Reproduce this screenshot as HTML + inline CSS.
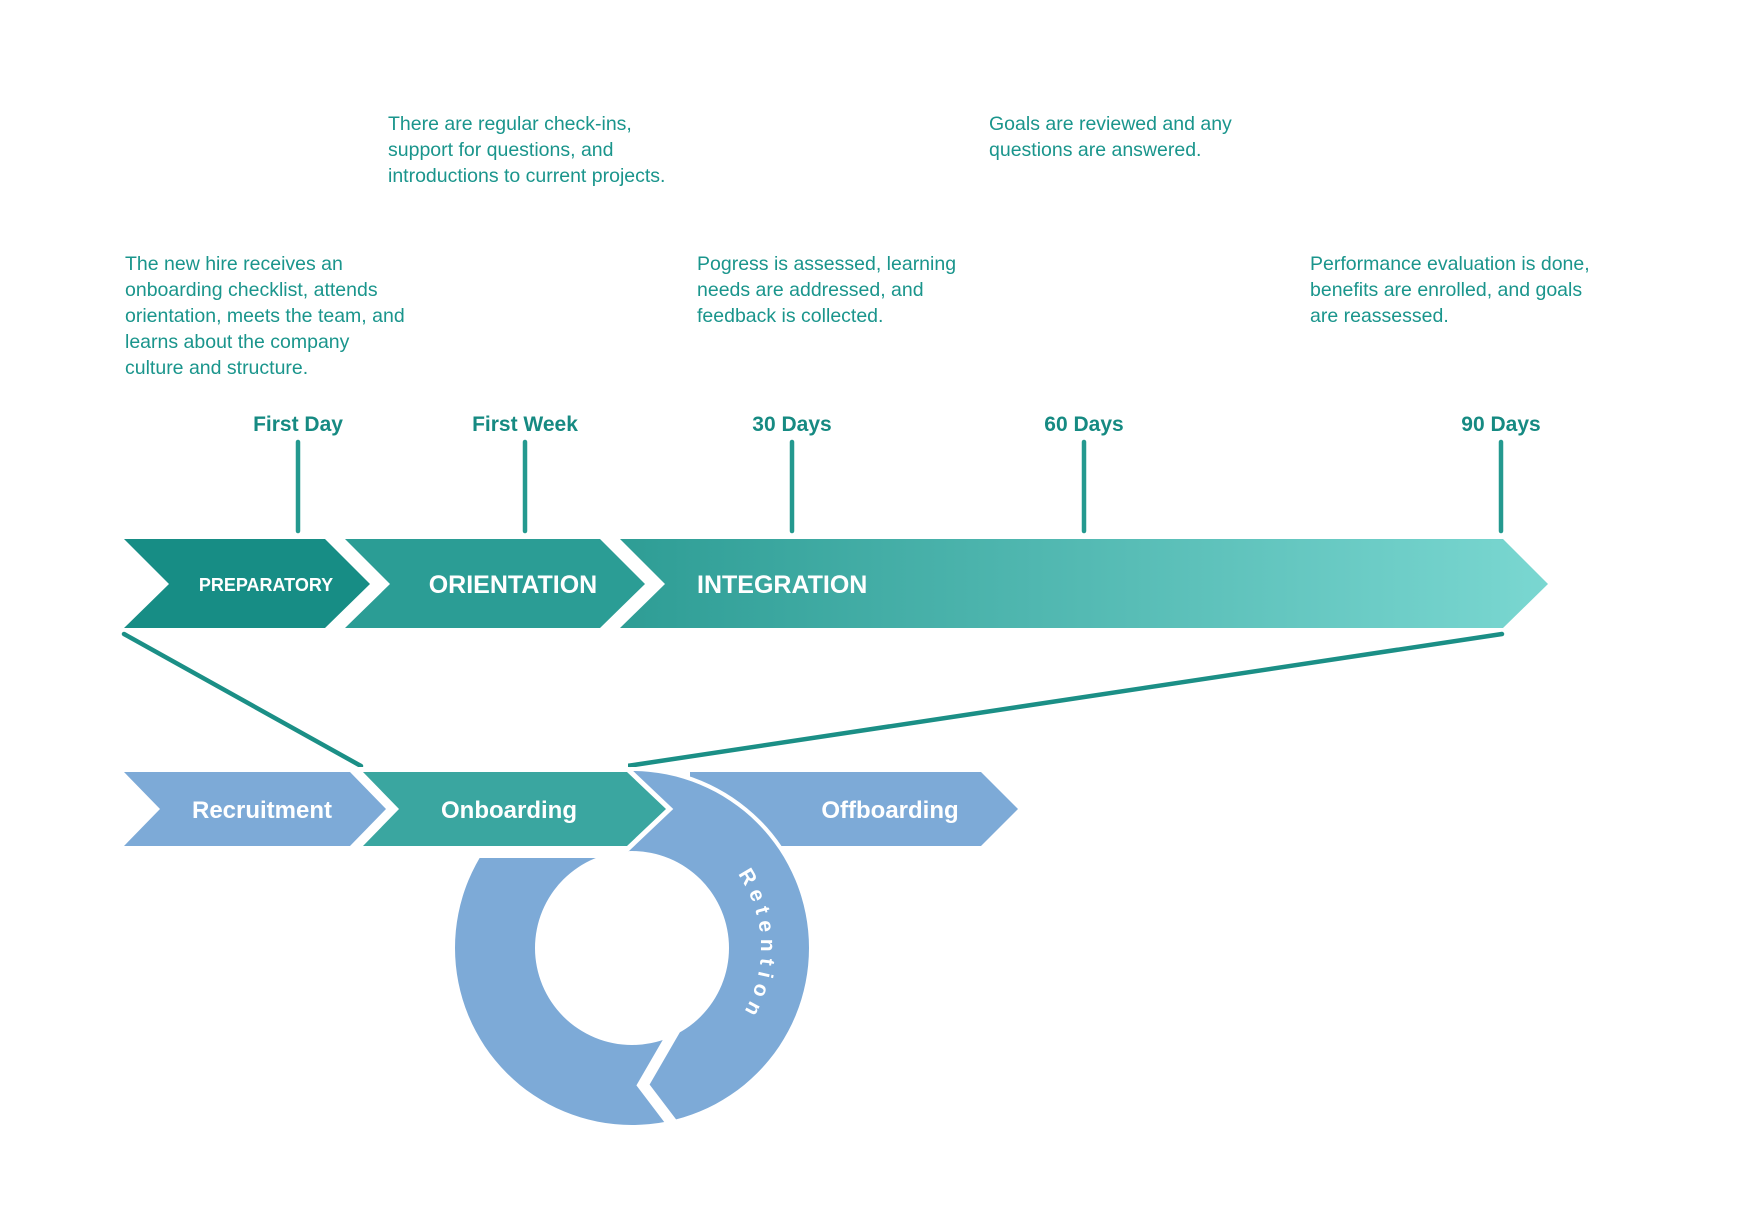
<!DOCTYPE html>
<html><head><meta charset="utf-8"><style>
html,body{margin:0;padding:0;background:#fff;}
svg{display:block;}
.p{font-family:"Liberation Sans",sans-serif;font-size:19.5px;fill:#1a958c;}
.m{font-family:"Liberation Sans",sans-serif;font-size:21px;font-weight:bold;fill:#168a82;text-anchor:middle;}
.w{font-family:"Liberation Sans",sans-serif;font-weight:bold;fill:#fff;}
</style></head><body>
<svg width="1760" height="1231" viewBox="0 0 1760 1231" xmlns="http://www.w3.org/2000/svg">
<defs>
<linearGradient id="g" x1="0" x2="1" y1="0" y2="0">
<stop offset="0" stop-color="#2e9d95"/><stop offset="1" stop-color="#7ad7d1"/>
</linearGradient>
<path id="arc" d="M737.7,874 A129,129 0 0 1 696.5,1059.7" fill="none"/>
</defs>

<g class="p">
<text x="125" y="270">The new hire receives an</text>
<text x="125" y="296">onboarding checklist, attends</text>
<text x="125" y="322">orientation, meets the team, and</text>
<text x="125" y="348">learns about the company</text>
<text x="125" y="374">culture and structure.</text>
<text x="388" y="130">There are regular check-ins,</text>
<text x="388" y="156">support for questions, and</text>
<text x="388" y="182">introductions to current projects.</text>
<text x="697" y="270">Pogress is assessed, learning</text>
<text x="697" y="296">needs are addressed, and</text>
<text x="697" y="322">feedback is collected.</text>
<text x="989" y="130">Goals are reviewed and any</text>
<text x="989" y="156">questions are answered.</text>
<text x="1310" y="270">Performance evaluation is done,</text>
<text x="1310" y="296">benefits are enrolled, and goals</text>
<text x="1310" y="322">are reassessed.</text>
</g>

<g class="m">
<text x="298" y="431">First Day</text>
<text x="525" y="431">First Week</text>
<text x="792" y="431">30 Days</text>
<text x="1084" y="431">60 Days</text>
<text x="1501" y="431">90 Days</text>
</g>
<g stroke="#24998f" stroke-width="4.5" stroke-linecap="round">
<line x1="298" y1="442" x2="298" y2="531"/>
<line x1="525" y1="442" x2="525" y2="531"/>
<line x1="792" y1="442" x2="792" y2="531"/>
<line x1="1084" y1="442" x2="1084" y2="531"/>
<line x1="1501" y1="442" x2="1501" y2="531"/>
</g>

<polygon points="124,539 325,539 370,584 325,628 124,628 169,584" fill="#178d85"/>
<polygon points="345,539 600,539 645,584 600,628 345,628 390,584" fill="#2b9d95"/>
<polygon points="620,539 1503,539 1548,584 1503,628 620,628 665,584" fill="url(#g)"/>
<text class="w" x="266" y="591" font-size="18" text-anchor="middle">PREPARATORY</text>
<text class="w" x="513" y="593" font-size="25" text-anchor="middle">ORIENTATION</text>
<text class="w" x="697" y="593" font-size="25">INTEGRATION</text>

<g stroke="#1b8f86" stroke-width="4.5" stroke-linecap="round">
<line x1="124" y1="634" x2="361" y2="766"/>
<line x1="627" y1="766" x2="1502" y2="634"/>
</g>

<!-- lower row -->
<polygon points="124,772 350,772 386,809 350,846 124,846 160,809" fill="#7daad7"/>
<polygon points="690,772 981,772 1018,809 981,846 690,846" fill="#7daad7"/>
<circle cx="632" cy="948" r="181" fill="#fff"/>
<path d="M632,771 A177,177 0 1 1 632,1125 A177,177 0 1 1 632,771 Z M632,851 A97,97 0 1 0 632,1045 A97,97 0 1 0 632,851 Z" fill="#7daad7" fill-rule="evenodd"/>
<rect x="400" y="700" width="228" height="158" fill="#fff"/>
<polyline points="676,1028 643,1085 681,1135" fill="none" stroke="#fff" stroke-width="11"/>
<polygon points="363,772 627,772 666,809 627,846 363,846 399,809" fill="#3aa6a0" stroke="#fff" stroke-width="10" stroke-linejoin="miter"/>
<polygon points="363,772 627,772 666,809 627,846 363,846 399,809" fill="#3aa6a0"/>
<text class="w" x="262" y="818" font-size="24" text-anchor="middle">Recruitment</text>
<text class="w" x="509" y="818" font-size="24" text-anchor="middle">Onboarding</text>
<text class="w" x="890" y="818" font-size="24" text-anchor="middle">Offboarding</text>
<text class="w" font-size="21" letter-spacing="6"><textPath href="#arc">Retention</textPath></text>
</svg>
</body></html>
